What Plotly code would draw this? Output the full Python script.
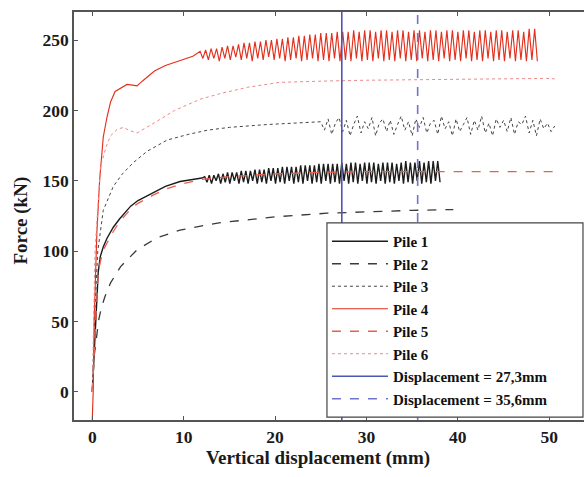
import plotly.graph_objects as go

# ---------------- data ----------------
# Pile 1 (smooth rise, then oscillating peak/trough pairs)
p1_x = [0.0, 0.3, 0.5, 0.65, 0.87, 1.2, 1.6, 2.3, 3.0, 4.2, 5.0, 6.7, 8.0, 9.6, 11.0, 12.0]
p1_y = [0, 35, 60, 85, 96, 103, 109, 117, 123, 132, 136, 142, 146, 149.5, 151, 152]
p1_osc_x = [12.3, 12.55, 12.8, 13.05, 13.3, 13.55, 13.8, 14.05, 14.3, 14.55, 14.8, 15.05,
            15.3, 15.55, 15.8, 16.05, 16.3, 16.55, 16.8, 17.05, 17.3, 17.55, 17.8, 18.05,
            18.3, 18.55, 18.8, 19.05, 19.3, 19.55, 19.8, 20.05, 20.3, 20.55, 20.8, 21.05,
            21.3, 21.55, 21.8, 22.05, 22.3, 22.55, 22.8, 23.05, 23.3, 23.55, 23.8, 24.05,
            24.3, 24.55, 24.8, 25.05, 25.3, 25.55, 25.8, 26.05, 26.3, 26.55, 26.8, 27.05,
            27.3, 27.55, 27.8, 28.05, 28.3, 28.55, 28.8, 29.05, 29.3, 29.55, 29.8, 30.05,
            30.3, 30.55, 30.8, 31.05, 31.3, 31.55, 31.8, 32.05, 32.3, 32.55, 32.8, 33.05,
            33.3, 33.55, 33.8, 34.05, 34.3, 34.55, 34.8, 35.05, 35.3, 35.55, 35.8, 36.05,
            36.3, 36.55, 36.8, 37.05, 37.3, 37.55, 37.8, 38.05]
p1_osc_y = [153, 149, 154, 148, 154, 150, 155, 148, 155, 149, 156, 148, 156, 150, 156, 148,
            157, 149, 157, 148, 157, 150, 158, 148, 158, 149, 158, 148, 159, 150, 159, 148,
            159, 149, 160, 148, 160, 150, 160, 148, 160, 149, 161, 148, 161, 150, 161, 148,
            161, 149, 162, 148, 162, 150, 162, 148, 162, 149, 162, 148, 163, 150, 162, 148,
            163, 149, 163, 148, 162, 150, 163, 148, 163, 149, 163, 148, 162, 150, 163, 148,
            163, 149, 163, 148, 162, 150, 163, 148, 164, 149, 163, 148, 163, 150, 164, 148,
            163, 149, 164, 148, 164, 150, 164, 149]

# Pile 2
p2_x = [0.0, 0.2, 0.7, 1.0, 1.4, 2.0, 3.1, 4.9, 7.1, 9.6, 13.7, 20.2, 25.7, 30.0, 35.0, 38.8, 39.5]
p2_y = [0, 25, 51, 60, 68, 77.5, 89, 101, 109.6, 115, 120, 124.5, 127, 128, 129, 129.5, 129.5]

# Pile 3 (smooth, then scattered band)
p3_x = [0.0, 0.3, 0.6, 1.2, 2.3, 3.3, 4.5, 6.0, 8.2, 10.5, 12.6, 15.0, 19.1, 22.0]
p3_y = [0, 60, 100, 129, 146, 155, 163, 171, 179, 183, 186, 188, 190, 191]
p3_osc_x = [25.0, 25.4, 25.8, 26.2, 26.6, 27.0, 27.4, 27.8, 28.2, 28.6, 29.0, 29.4, 29.8,
            30.2, 30.6, 31.0, 31.4, 31.8, 32.2, 32.6, 33.0, 33.4, 33.8, 34.2, 34.6, 35.0,
            35.4, 35.8, 36.2, 36.6, 37.0, 37.4, 37.8, 38.2, 38.6, 39.0, 39.4, 39.8, 40.2,
            40.6, 41.0, 41.4, 41.8, 42.2, 42.6, 43.0, 43.4, 43.8, 44.2, 44.6, 45.0, 45.4,
            45.8, 46.2, 46.6, 47.0, 47.4, 47.8, 48.2, 48.6, 49.0, 49.4, 49.8, 50.2, 50.6]
p3_osc_y = [192, 186, 194, 183, 191, 195, 185, 193, 182, 190, 196, 184, 192, 187, 195, 182,
            191, 194, 185, 193, 183, 190, 196, 186, 192, 182, 194, 188, 195, 184, 191, 193,
            183, 196, 187, 192, 182, 194, 185, 190, 195, 183, 193, 186, 196, 184, 191, 182,
            194, 188, 193, 185, 195, 183, 192, 190, 196, 184, 193, 182, 194, 187, 191, 185, 189]

# Pile 4 (smooth rise, then oscillating peak/trough pairs)
p4_x = [0.0, 0.1, 0.2, 0.35, 0.5, 0.8, 1.0, 1.2, 1.6, 2.0, 2.5, 3.2, 3.8, 4.4, 4.9, 5.5,
        6.8, 8.0, 9.0, 10.0, 11.0]
p4_y = [-20, 0, 50, 90, 113, 150, 165, 181, 195, 206, 213.5, 216, 218.5, 218, 217.5, 221,
        228, 232, 234, 236, 238.5]
p4_osc_x = [11.8, 12.1, 12.4, 12.7, 13.0, 13.3, 13.6, 13.9, 14.2, 14.5, 14.8, 15.1, 15.4,
            15.7, 16.0, 16.3, 16.6, 16.9, 17.2, 17.5, 17.8, 18.1, 18.4, 18.7, 19.0, 19.3,
            19.6, 19.9, 20.2, 20.5, 20.8, 21.1, 21.4, 21.7, 22.0, 22.3, 22.6, 22.9, 23.2,
            23.5, 23.8, 24.1, 24.4, 24.7, 25.0, 25.3, 25.6, 25.9, 26.2, 26.5, 26.8, 27.1,
            27.4, 27.7, 28.0, 28.3, 28.6, 28.9, 29.2, 29.5, 29.8, 30.1, 30.4, 30.7, 31.0,
            31.3, 31.6, 31.9, 32.2, 32.5, 32.8, 33.1, 33.4, 33.7, 34.0, 34.3, 34.6, 34.9,
            35.2, 35.5, 35.8, 36.1, 36.4, 36.7, 37.0, 37.3, 37.6, 37.9, 38.2, 38.5, 38.8,
            39.1, 39.4, 39.7, 40.0, 40.3, 40.6, 40.9, 41.2, 41.5, 41.8, 42.1, 42.4, 42.7,
            43.0, 43.3, 43.6, 43.9, 44.2, 44.5, 44.8, 45.1, 45.4, 45.7, 46.0, 46.3, 46.6,
            46.9, 47.2, 47.5, 47.8, 48.1, 48.4, 48.7]
p4_osc_y = [242, 237, 243, 236, 244, 237, 244, 235, 245, 237, 246, 236, 246, 238, 247, 236,
            248, 237, 248, 235, 249, 237, 249, 236, 250, 238, 250, 236, 251, 237, 251, 235,
            252, 236, 252, 237, 253, 235, 253, 236, 254, 237, 254, 235, 255, 236, 255, 235,
            255, 237, 256, 235, 256, 236, 256, 235, 257, 237, 256, 235, 257, 236, 257, 235,
            256, 237, 257, 235, 257, 236, 256, 235, 257, 237, 257, 235, 256, 236, 257, 235,
            257, 237, 256, 235, 257, 236, 257, 235, 256, 237, 257, 235, 257, 236, 256, 235,
            257, 237, 257, 235, 256, 236, 257, 235, 257, 237, 256, 235, 257, 236, 257, 235,
            256, 237, 257, 235, 257, 236, 256, 235, 258, 236, 258, 235]

# Pile 5
p5_x = [0.0, 0.3, 0.5, 0.65, 0.9, 1.3, 2.3, 3.0, 4.2, 5.0, 6.7, 8.0, 9.6, 11.0, 12.0, 15.0,
        20.0, 25.0, 30.0, 38.0, 45.0, 50.6]
p5_y = [0, 40, 65, 85, 93, 102, 114, 121, 130, 134, 140, 144, 147.5, 149.5, 151, 153, 155,
        156, 156.5, 156.5, 156.5, 156.5]

# Pile 6
p6_x = [0.0, 0.3, 0.9, 1.5, 2.0, 2.7, 3.4, 4.0, 4.9, 6.0, 7.4, 9.0, 11.8, 14.0, 17.0, 20.5,
        22.7, 26.0, 30.0, 35.0, 40.0, 45.0, 49.7, 50.6]
p6_y = [0, 100, 160, 174, 182, 186.5, 188, 186, 184, 188, 193.6, 200, 208, 212, 216.5, 220,
        220.6, 221, 221.5, 222, 222, 222.5, 222.8, 222.5]

# Reference displacements
disp_values = [27.3, 35.6]
disp_labels = ["Displacement = 27,3mm", "Displacement = 35,6mm"]

x_ticks = [0, 10, 20, 30, 40, 50]
y_ticks = [0, 50, 100, 150, 200, 250]
x_range = [-2, 53.8]
y_range = [-20, 270]

# ---------------- figure ----------------
fig = go.Figure()

def add(name, x, y, color, dash, width):
    fig.add_trace(go.Scatter(x=x, y=y, mode="lines", name=name,
                             line=dict(color=color, dash=dash, width=width)))

add("Pile 1", p1_x + p1_osc_x, p1_y + p1_osc_y, "#1c1c1c", "solid", 1.4)
add("Pile 2", p2_x, p2_y, "#3a3a3a", "dash", 1.3)
add("Pile 3", p3_x + p3_osc_x, p3_y + p3_osc_y, "#444444", "dot", 1.0)
add("Pile 4", p4_x + p4_osc_x, p4_y + p4_osc_y, "#e3301e", "solid", 1.15)
add("Pile 5", p5_x, p5_y, "#e8604c", "dash", 1.3)
add("Pile 6", p6_x, p6_y, "#ea8a8a", "dot", 1.0)

disp_colors = ["#4a55b8", "#6f74cc"]
disp_dash = ["solid", "dash"]
for v, lab, c, d in zip(disp_values, disp_labels, disp_colors, disp_dash):
    fig.add_trace(go.Scatter(x=[v, v], y=y_range, mode="lines", name=lab,
                             line=dict(color=c, dash=d, width=1.6)))

font = "Liberation Serif, Times New Roman, serif"

fig.update_layout(
    width=584, height=477,
    margin=dict(l=74, r=0, t=12, b=57),
    paper_bgcolor="white", plot_bgcolor="white",
    font=dict(family=font, size=17, color="#1a1a1a"),
    showlegend=True,
    legend=dict(x=0.496, y=0.478, xanchor="left", yanchor="top",
                bgcolor="rgba(0,0,0,0)", borderwidth=0,
                font=dict(family=font, size=15, color="#111111", weight="bold"),
                itemwidth=56, tracegroupgap=0),
    shapes=[dict(type="rect", xref="paper", yref="paper",
                 x0=0.496, x1=0.998, y0=0.007, y1=0.483,
                 line=dict(color="#444444", width=1.2),
                 fillcolor="white", layer="above")],
    annotations=[
        dict(text="Vertical displacement (mm)", xref="paper", yref="paper",
             x=0.478, y=-0.093, xanchor="center", yanchor="middle", showarrow=False,
             font=dict(family=font, size=19, weight="bold", color="#1a1a1a")),
        dict(text="Force (kN)", xref="paper", yref="paper", textangle=-90,
             x=-0.103, y=0.49, xanchor="center", yanchor="middle", showarrow=False,
             font=dict(family=font, size=19, weight="bold", color="#1a1a1a")),
    ],
)

fig.update_xaxes(range=x_range, tickvals=x_ticks, ticks="inside", ticklen=4,
                 tickcolor="#555555", showline=True, linecolor="#555555", linewidth=1.5,
                 mirror="ticks", showgrid=False, zeroline=False, automargin=False,
                 tickfont=dict(family=font, size=17.5, weight="bold"))
fig.update_yaxes(range=y_range, tickvals=y_ticks, ticks="inside", ticklen=4,
                 tickcolor="#555555", showline=True, linecolor="#555555", linewidth=1.5,
                 mirror=False, showgrid=False, zeroline=False, automargin=False,
                 tickfont=dict(family=font, size=17.5, weight="bold"))

fig.write_html("out.html", config={"displayModeBar": False},
               post_script="document.body.style.margin='0';")
